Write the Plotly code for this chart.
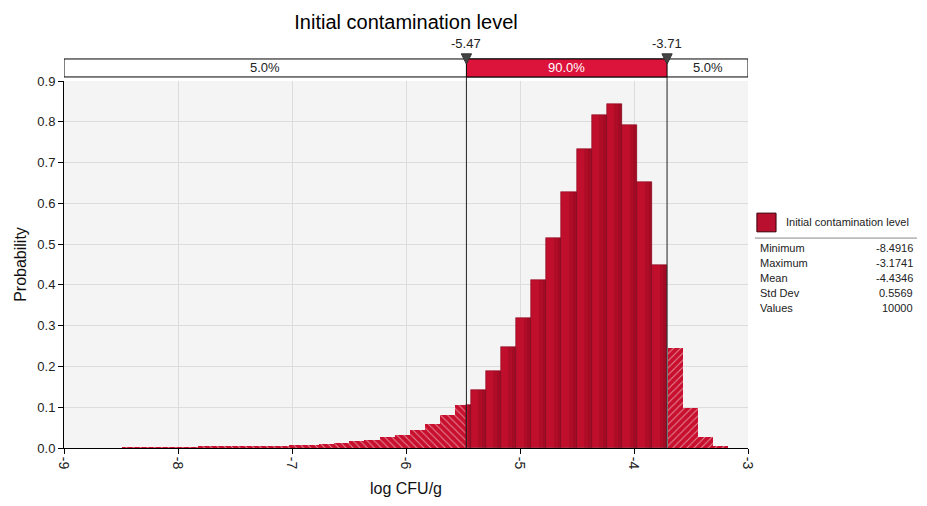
import numpy as np
import plotly.graph_objects as go

# ---------------- data ----------------
title = "Initial contamination level"
x_label = "log CFU/g"
y_label = "Probability"
stat_names = ["Minimum", "Maximum", "Mean", "Std Dev", "Values"]
stat_values = ["-8.4916", "-3.1741", "-4.4346", "0.5569", "10000"]
data_min = -8.4916
data_max = -3.1741
n_bins = 40
# probability density per bin
density = [0.002, 0.002, 0.002, 0.002, 0.002, 0.003, 0.005, 0.003, 0.004, 0.005,
           0.006, 0.007, 0.008, 0.010, 0.012, 0.016, 0.020, 0.026, 0.032, 0.043,
           0.058, 0.080, 0.105, 0.142, 0.190, 0.248, 0.319, 0.412, 0.515, 0.627,
           0.733, 0.816, 0.843, 0.792, 0.652, 0.449, 0.245, 0.098, 0.027, 0.006]
cut_lo = -5.47
cut_hi = -3.71
band_pcts = ["5.0%", "90.0%", "5.0%"]
x_ticks = [-9, -8, -7, -6, -5, -4, -3]
y_ticks = [0.0, 0.1, 0.2, 0.3, 0.4, 0.5, 0.6, 0.7, 0.8, 0.9]

# ---------------- styling ----------------
FONT = "Liberation Sans, Arial, sans-serif"
RED = "#c8102e"
SOLID = "#c00f2d"
BAND_RED = "#dc143c"

edges = np.linspace(data_min, data_max, n_bins + 1)
regions = [(-np.inf, cut_lo), (cut_lo, cut_hi), (cut_hi, np.inf)]
segs = [[], [], []]
for i in range(n_bins):
    a, b = edges[i], edges[i + 1]
    for r, (lo, hi) in enumerate(regions):
        s, e = max(a, lo), min(b, hi)
        if e - s > 0.01:
            segs[r].append(((s + e) / 2, e - s, density[i]))

fig = go.Figure()
for r in range(3):
    xs = [s[0] for s in segs[r]]
    ws = [s[1] for s in segs[r]]
    ys = [s[2] for s in segs[r]]
    if r == 1:
        fig.add_trace(go.Bar(x=xs, y=ys, width=ws, marker=dict(color=SOLID, line=dict(width=0.6, color="#8c0a22")),
                             showlegend=False, hoverinfo="skip"))
        # darker shading toward the right of each bar to mimic the gradient
        fig.add_trace(go.Bar(x=[x + w * 0.25 for x, w in zip(xs, ws)], y=ys, width=[w * 0.5 for w in ws],
                             marker=dict(color="rgba(90,0,15,0.16)", line=dict(width=0)),
                             showlegend=False, hoverinfo="skip"))
        fig.add_trace(go.Bar(x=[x + w * 0.375 for x, w in zip(xs, ws)], y=ys, width=[w * 0.25 for w in ws],
                             marker=dict(color="rgba(90,0,15,0.14)", line=dict(width=0)),
                             showlegend=False, hoverinfo="skip"))
    else:
        fig.add_trace(go.Bar(x=xs, y=ys, width=ws,
                             marker=dict(color=RED, line=dict(width=0),
                                         pattern=dict(shape="\\" if r == 0 else "/", fgcolor="white",
                                                      bgcolor=RED, size=5, solidity=0.2, fillmode="overlay")),
                             showlegend=False, hoverinfo="skip"))

shapes = []
# percentile band above plot
band_y0, band_y1 = 1.011, 1.060
bounds = [x_ticks[0], cut_lo, cut_hi, x_ticks[-1]]
shapes.append(dict(type="rect", xref="x", yref="paper", x0=bounds[0], x1=bounds[3], y0=band_y0, y1=band_y1,
                   fillcolor="white", line=dict(color="black", width=1)))
shapes.append(dict(type="rect", xref="x", yref="paper", x0=cut_lo, x1=cut_hi, y0=band_y0, y1=band_y1,
                   fillcolor=BAND_RED, line=dict(color="black", width=1)))
for c in (cut_lo, cut_hi):
    shapes.append(dict(type="line", xref="x", yref="paper", x0=c, x1=c, y0=0, y1=band_y0,
                       line=dict(color="#222222", width=1)))
    dx = 0.045
    shapes.append(dict(type="path", xref="x", yref="paper",
                       path=f"M {c-dx},1.074 L {c+dx},1.074 L {c},1.046 Z",
                       fillcolor="#444444", line=dict(color="#333333", width=1)))

# legend line
shapes.append(dict(type="line", xref="paper", yref="paper", x0=1.010, x1=1.247, y0=0.572, y1=0.572,
                   line=dict(color="#888888", width=1)))
shapes.append(dict(type="rect", xref="paper", yref="paper", x0=1.013, x1=1.041, y0=0.589, y1=0.640,
                   fillcolor="#b8102e", line=dict(color="#3a0008", width=1)))

annotations = []
for k, txt in enumerate(band_pcts):
    annotations.append(dict(xref="x", yref="paper", x=(bounds[k] + bounds[k + 1]) / 2, y=(band_y0 + band_y1) / 2,
                            text=txt, showarrow=False, xanchor="center", yanchor="middle",
                            font=dict(family=FONT, size=13, color="white" if k == 1 else "#222222")))
for c in (cut_lo, cut_hi):
    annotations.append(dict(xref="x", yref="paper", x=c, y=1.101, text=f"{c:.2f}", showarrow=False,
                            xanchor="center", yanchor="middle", font=dict(family=FONT, size=13, color="#222222")))
annotations.append(dict(xref="paper", yref="paper", x=1.0526, y=0.616, text=title, showarrow=False,
                        xanchor="left", yanchor="middle", font=dict(family=FONT, size=11, color="#222222")))
row_y = [0.545, 0.504, 0.463, 0.422, 0.381]
for nm, val, yy in zip(stat_names, stat_values, row_y):
    annotations.append(dict(xref="paper", yref="paper", x=1.0146, y=yy, text=nm, showarrow=False,
                            xanchor="left", yanchor="middle", font=dict(family=FONT, size=11, color="#222222")))
    annotations.append(dict(xref="paper", yref="paper", x=1.244, y=yy, text=val, showarrow=False,
                            xanchor="right", yanchor="middle", font=dict(family=FONT, size=11, color="#222222")))

fig.update_layout(
    width=927, height=506,
    margin=dict(l=64, r=179, t=81, b=58),
    paper_bgcolor="white", plot_bgcolor="#f4f4f4",
    barmode="overlay", bargap=0,
    title=dict(text=title, x=(64 + 342) / 927, xanchor="center", y=1 - 22 / 506, yanchor="middle",
               font=dict(family=FONT, size=20, color="black")),
    shapes=shapes, annotations=annotations,
    font=dict(family=FONT, size=13, color="#222222"),
)
fig.update_xaxes(range=[x_ticks[0], x_ticks[-1]], tickvals=x_ticks, ticktext=[str(t) for t in x_ticks],
                 tickangle=90, ticks="outside", ticklen=5, tickcolor="black",
                 showline=True, linecolor="black", linewidth=1, showgrid=True, gridcolor="#dcdcdc",
                 zeroline=False, tickfont=dict(family=FONT, size=14, color="#222222"),
                 title=dict(text=x_label, font=dict(family=FONT, size=16, color="#111111"), standoff=14))
fig.update_yaxes(range=[0, 0.9], tickvals=y_ticks, ticktext=[f"{t:.1f}" for t in y_ticks],
                 ticks="outside", ticklen=5, tickcolor="black",
                 showline=True, linecolor="black", linewidth=1, showgrid=True, gridcolor="#dcdcdc",
                 zeroline=False, tickfont=dict(family=FONT, size=13, color="#222222"),
                 title=dict(text=y_label, font=dict(family=FONT, size=16, color="#111111"), standoff=6))

fig.write_html("out.html", config={"displayModeBar": False},
               post_script="document.body.style.margin='0';document.body.style.padding='0';")
